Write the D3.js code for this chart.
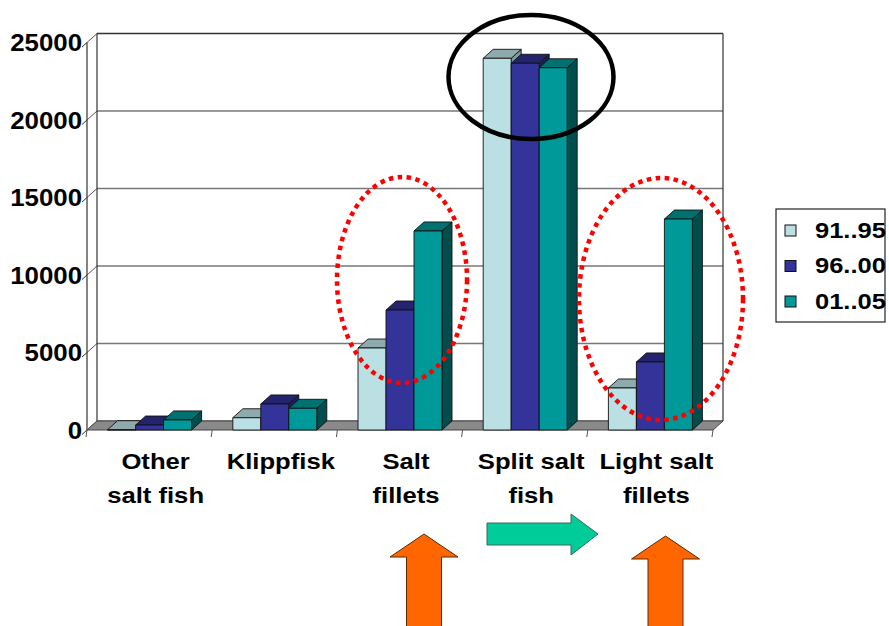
<!DOCTYPE html>
<html><head><meta charset="utf-8">
<script src="https://cdn.jsdelivr.net/npm/d3@7"></script>
<style>body{margin:0;background:#fff}svg{display:block}</style>
</head><body>
<svg id="c" width="889" height="626"></svg>
<script>
// ---- data ----
const categories = ["Other salt fish","Klippfisk","Salt fillets","Split salt fish","Light salt fillets"];
const categoryLines = [["Other","salt fish"],["Klippfisk"],["Salt","fillets"],["Split salt","fish"],["Light salt","fillets"]];
const series = ["91..95","96..00","01..05"];
const values9195 = [20, 790, 5290, 23980, 2710];
const values9600 = [320, 1680, 7740, 23660, 4390];
const values0105 = [650, 1400, 12840, 23370, 13610];
const yTicks = [0, 5000, 10000, 15000, 20000, 25000];

const seriesValues = [values9195, values9600, values0105];
const colors = [
  {front:"#BBE0E3", top:"#8FAAAD", side:"#7E9A9D"},
  {front:"#333399", top:"#24246E", side:"#1E1E5C"},
  {front:"#009999", top:"#007171", side:"#004D4D"}
];

const svg = d3.select("#c");
const DX = 10, DY = -9;
const x = d3.scaleBand().domain(categories).range([87, 713]);
const xs = d3.scaleBand().domain(series).range([-42, 42]);
const y = d3.scaleLinear().domain([0, 25000]).range([430, 42.5]);
const font = "'Liberation Sans', Arial, sans-serif";

// ---- walls ----
const wall = svg.append("g");
const x0 = x.range()[0], x1 = x.range()[1];
// back wall gridlines
yTicks.forEach(t => {
  const yf = y(t);
  wall.append("line").attr("x1", x0 + DX).attr("x2", x1 + DX).attr("y1", yf + DY).attr("y2", yf + DY)
    .attr("stroke", t === 25000 ? "#333" : "#777").attr("stroke-width", 1.3);
  // side wall gridline
  wall.append("line").attr("x1", x0).attr("y1", yf).attr("x2", x0 + DX).attr("y2", yf + DY)
    .attr("stroke", "#555").attr("stroke-width", 1);
  // tick
  wall.append("line").attr("x1", x0 - 5).attr("y1", yf + 4.5).attr("x2", x0).attr("y2", yf)
    .attr("stroke", "#333").attr("stroke-width", 1);
  // label
  wall.append("g").attr("transform", `translate(${x0 - 5},${yf + 8.5}) scale(1.1,1)`)
    .append("text").attr("text-anchor", "end").attr("font-family", font).attr("font-weight", "bold")
    .attr("font-size", 23.5).attr("fill", "#000").text(t);
});
// wall edges
wall.append("line").attr("x1", x0 + DX).attr("x2", x0 + DX).attr("y1", y(25000) + DY).attr("y2", y(0) + DY).attr("stroke", "#333").attr("stroke-width", 1.2);
wall.append("line").attr("x1", x1 + DX).attr("x2", x1 + DX).attr("y1", y(25000) + DY).attr("y2", y(0) + DY).attr("stroke", "#333").attr("stroke-width", 1.2);
wall.append("line").attr("x1", x0).attr("x2", x0).attr("y1", y(25000)).attr("y2", y(0)).attr("stroke", "#333").attr("stroke-width", 1.2);

// floor
const fy = y(0);
svg.append("path")
  .attr("d", `M${x0},${fy} L${x1},${fy} L${x1 + DX},${fy + DY} L${x0 + DX},${fy + DY} Z`)
  .attr("fill", "#8A8A8A").attr("stroke", "#444").attr("stroke-width", 1);
// category ticks
[...categories.map(c => x(c)), x1].forEach(cx => {
  svg.append("line").attr("x1", cx).attr("x2", cx - 1).attr("y1", fy).attr("y2", fy + 7)
    .attr("stroke", "#555").attr("stroke-width", 1);
});

// ---- bars ----
const bars = svg.append("g");
categories.forEach((c, ci) => {
  const cx = x(c) + x.bandwidth() / 2;
  series.forEach((s, si) => {
    const v = seriesValues[si][ci];
    const bx = cx + xs(s), bw = xs.bandwidth();
    const top = y(v), bot = y(0);
    const col = colors[si];
    const g = bars.append("g").attr("stroke", "#111").attr("stroke-width", 0.9).attr("stroke-linejoin", "round");
    g.append("path").attr("fill", col.side)
      .attr("d", `M${bx + bw},${bot} L${bx + bw + DX},${bot + DY} L${bx + bw + DX},${top + DY} L${bx + bw},${top} Z`);
    g.append("path").attr("fill", col.top)
      .attr("d", `M${bx},${top} L${bx + DX},${top + DY} L${bx + bw + DX},${top + DY} L${bx + bw},${top} Z`);
    g.append("rect").attr("fill", col.front).attr("x", bx).attr("y", top).attr("width", bw).attr("height", Math.max(0, bot - top));
  });
});

// ---- category labels ----
categories.forEach((c, ci) => {
  const cx = x(c) + x.bandwidth() / 2 + 6;
  categoryLines[ci].forEach((line, li) => {
    svg.append("g").attr("transform", `translate(${cx},${469 + li * 34}) scale(1.14,1)`)
      .append("text").attr("text-anchor", "middle").attr("font-family", font).attr("font-weight", "bold")
      .attr("font-size", 22.5).attr("fill", "#000").text(line);
  });
});

// ---- legend ----
const lg = svg.append("g");
lg.append("rect").attr("x", 776).attr("y", 209).attr("width", 109).attr("height", 113)
  .attr("fill", "#fff").attr("stroke", "#222").attr("stroke-width", 1.2);
series.forEach((s, si) => {
  const ry = 225 + si * 35.5;
  lg.append("rect").attr("x", 785).attr("y", ry).attr("width", 11).attr("height", 11)
    .attr("fill", colors[si].front).attr("stroke", "#111").attr("stroke-width", 1);
  lg.append("g").attr("transform", `translate(815,${ry + 12.5}) scale(1.16,1)`)
    .append("text").attr("font-family", font).attr("font-weight", "bold").attr("font-size", 22)
    .attr("fill", "#000").text(s);
});

// ---- annotations ----
const an = svg.append("g").attr("fill", "none");
an.append("ellipse").attr("cx", 531).attr("cy", 77).attr("rx", 82.5).attr("ry", 62)
  .attr("stroke", "#000").attr("stroke-width", 4.5);
an.append("ellipse").attr("cx", 402).attr("cy", 280).attr("rx", 65).attr("ry", 103)
  .attr("stroke", "#FF0000").attr("stroke-width", 4.5).attr("stroke-dasharray", "4.5,4.5");
an.append("ellipse").attr("cx", 661).attr("cy", 299).attr("rx", 82).attr("ry", 121)
  .attr("stroke", "#FF0000").attr("stroke-width", 4.5).attr("stroke-dasharray", "4.5,4.5");

// arrows
function upArrow(cx, tipY, baseY, headHalf, shaftHalf) {
  return `M${cx},${tipY} L${cx + headHalf},${baseY} L${cx + shaftHalf},${baseY} L${cx + shaftHalf},640 L${cx - shaftHalf},640 L${cx - shaftHalf},${baseY} L${cx - headHalf},${baseY} Z`;
}
svg.append("path").attr("d", upArrow(424, 534, 557, 34, 17.5)).attr("fill", "#FF6600").attr("stroke", "#5a2a00").attr("stroke-width", 1);
svg.append("path").attr("d", upArrow(665.5, 536, 559, 34, 17.5)).attr("fill", "#FF6600").attr("stroke", "#5a2a00").attr("stroke-width", 1);
svg.append("path").attr("d", "M487,523 L571,523 L571,514 L598,534 L571,555 L571,545 L487,545 Z")
  .attr("fill", "#00CC99").attr("stroke", "#3a6a5a").attr("stroke-width", 1);
</script>
</body></html>
